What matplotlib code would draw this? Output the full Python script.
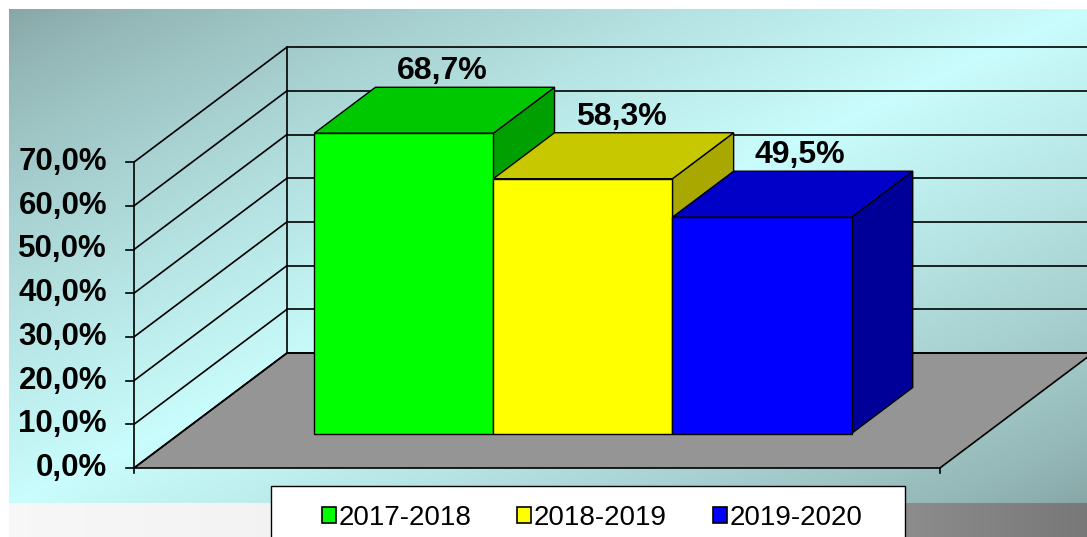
import numpy as np
import matplotlib.pyplot as plt
from matplotlib.patches import Polygon, Patch, Rectangle

# ——— data ———
seasons = ['2017-2018', '2018-2019', '2019-2020']
share = [68.7, 58.3, 49.5]
y_ticks = [0, 10, 20, 30, 40, 50, 60, 70]

front_colors = ['#00FF00', '#FFFF00', '#0000FF']
top_colors = ['#00C800', '#C8C800', '#0000C8']
side_colors = ['#00A000', '#A8A800', '#000099']

# ——— layout of the fake 3D box (pixels) ———
W, H = 1087, 537
PX_PER_CAT = 179.1
PX_PER_PCT = 4.37
ORIGIN = (134, 468)   # front-left corner of the floor
DEPTH = (153, 115)    # full depth offset: right and up
GAP = 0.75            # gap width 150% -> 0.75 bar on each side
Z0, Z1 = 0.3, 0.7     # depth span of the bars

x_left = -0.5 - GAP
x_right = len(share) - 0.5 + GAP
y_top = y_ticks[-1]
ddx = DEPTH[0] / PX_PER_CAT
ddy = DEPTH[1] / PX_PER_PCT


def proj(x, y, z):
    return (x + z * ddx, y + z * ddy)


plt.rcParams['font.family'] = ['Liberation Sans', 'DejaVu Sans']

fig = plt.figure(figsize=(W / 100, H / 100), dpi=100)
fig.patch.set_facecolor('white')

# ——— background panel gradient ———
bg = fig.add_axes([0, 0, 1, 1])
xx, yy = np.meshgrid(np.arange(W) + 0.5, np.arange(H) + 0.5)
t = 0.5 * ((xx - 9) / (W - 9) + (yy - 9) / (503 - 9))
f = np.clip(1 - np.abs(2 * t - 1), 0, 1) ** 0.8
dark = np.array([0.53, 0.65, 0.65])
light = np.array([0.79, 0.99, 0.99])
img = dark + (light - dark) * f[..., None]
strip = np.interp(xx, [9, 300, 905, 1087], [0.97, 0.95, 0.55, 0.47])
low = yy >= 503
img[low] = np.stack([strip[low]] * 3, axis=-1)
img[(xx < 9) | (yy < 9)] = 1.0
bg.imshow(img, extent=(0, W, H, 0), aspect='auto', interpolation='bilinear')
bg.axis('off')

# ——— chart axes in category / percent units ———
ax = fig.add_axes([0, 0, 1, 1])
ax.patch.set_alpha(0)
ax.set_xlim(x_left - ORIGIN[0] / PX_PER_CAT, x_left + (W - ORIGIN[0]) / PX_PER_CAT)
ax.set_ylim(-(H - ORIGIN[1]) / PX_PER_PCT, ORIGIN[1] / PX_PER_PCT)
ax.axis('off')

LW = 1.2

# floor
floor = [proj(x_left, 0, 0), proj(x_right, 0, 0), proj(x_right, 0, 1), proj(x_left, 0, 1)]
ax.add_patch(Polygon(floor, closed=True, facecolor='#959595', edgecolor='black',
                     linewidth=LW, zorder=1))

# back wall gridlines + left wall diagonals
for v in y_ticks:
    a, b = proj(x_left, v, 1), proj(x_right, v, 1)
    ax.plot([a[0], b[0]], [a[1], b[1]], color='black', lw=LW, zorder=2)
    c = proj(x_left, v, 0)
    ax.plot([c[0], a[0]], [c[1], a[1]], color='black', lw=LW, zorder=2)
    # tick mark and label on the front axis
    ax.plot([x_left - 8 / PX_PER_CAT, x_left], [v, v], color='black', lw=LW, zorder=2)
    ax.text(x_left - 27 / PX_PER_CAT, v, f'{v:.1f}%'.replace('.', ','),
            ha='right', va='center', fontsize=22.5, fontweight='bold', zorder=5)

a, b = proj(x_left, 0, 1), proj(x_left, y_top, 1)
ax.plot([a[0], b[0]], [a[1], b[1]], color='black', lw=LW, zorder=2)
ax.plot([x_left, x_left], [0, y_top], color='black', lw=LW, zorder=2)
for xe in (x_left, x_right):
    ax.plot([xe, xe], [0, -5 / PX_PER_PCT], color='black', lw=LW, zorder=2)

# ——— bars ———
for i, v in enumerate(share):
    x0, x1 = i - 0.5, i + 0.5
    front = [proj(x0, 0, Z0), proj(x1, 0, Z0), proj(x1, v, Z0), proj(x0, v, Z0)]
    top = [proj(x0, v, Z0), proj(x1, v, Z0), proj(x1, v, Z1), proj(x0, v, Z1)]
    side = [proj(x1, 0, Z0), proj(x1, 0, Z1), proj(x1, v, Z1), proj(x1, v, Z0)]
    for poly, col in ((side, side_colors[i]), (top, top_colors[i]), (front, front_colors[i])):
        ax.add_patch(Polygon(poly, closed=True, facecolor=col, edgecolor='black',
                             linewidth=1.0, zorder=3 + i * 0.1))
    lx = proj(i, v, 0.55)[0]
    ly = proj(i, v, Z1)[1] + 1 / PX_PER_PCT
    ax.text(lx, ly, f'{v:.1f}%'.replace('.', ','), ha='center', va='bottom',
            fontsize=23, fontweight='bold', zorder=6)

# ——— legend (box runs off the bottom edge, as in the source) ———
fig.add_artist(Rectangle((271 / W, -0.05), (905 - 271) / W, 0.05 + (H - 486) / H,
                         transform=fig.transFigure, facecolor='white',
                         edgecolor='black', linewidth=1.0, zorder=8))
handles = [Patch(facecolor=c, edgecolor='black', linewidth=1.2) for c in front_colors]
leg = fig.legend(handles, seasons, loc='center', ncol=3,
                 bbox_to_anchor=(592 / W, 1 - 518 / H),
                 fontsize=20, frameon=False, borderpad=0,
                 handlelength=0.5, handleheight=0.5, handletextpad=0.1,
                 columnspacing=1.65, borderaxespad=0)
leg.set_zorder(9)

fig.savefig('out.png', dpi=100, facecolor='white')
